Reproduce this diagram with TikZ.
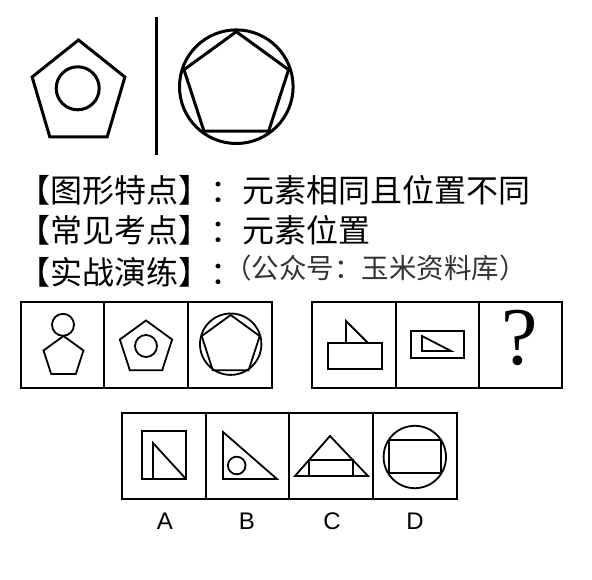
\documentclass[tikz,border=0pt]{standalone}
\usepackage{fontspec}
\newfontfamily\cjk{Noto Sans CJK SC}
\newfontfamily\qfont{Liberation Serif}
\newfontfamily\lblfont{Liberation Sans}
\usetikzlibrary{calc}
\begin{document}
\begin{tikzpicture}[x=1pt,y=-1pt,
  bigline/.style={line width=3pt,line join=miter},
  boxline/.style={line width=2pt},
  figline/.style={line width=1.8pt,line join=miter},
  pent/.pic={\draw (-90:#1)--(-162:#1)--(-234:#1)--(-306:#1)--(-18:#1)--cycle;},
  maintext/.style={anchor=base west,inner sep=0pt,font=\cjk\fontsize{32}{32}\selectfont},
  subtext/.style={anchor=base west,inner sep=0pt,text=black!80,font=\cjk\fontsize{27.5}{27.5}\selectfont},
  lbl/.style={anchor=base,inner sep=0pt,font=\lblfont\fontsize{24}{24}\selectfont}
]
\useasboundingbox (0,0) rectangle (592,580);
\fill[white] (0,0) rectangle (592,580);

% ---- top figure ----
\pic[bigline,xscale=.91] at (78.5,93.6) {pent=53.6};
\draw[bigline] (77.7,88.3) circle[radius=21.5];
\coordinate (vtop) at (156,17);
\coordinate (vbot) at (156,155);
\draw[bigline] (vtop) -- (vbot);
\draw[bigline] (236.3,86.7) circle[radius=56.8];
\pic[bigline] at (236.3,86.7) {pent=55};

% ---- text ----
\node[maintext] (t1) at (18,203) {【图形特点】：元素相同且位置不同};
\node[maintext] (t2) at (18,243) {【常见考点】：元素位置};
\node[maintext] (t3) at (18,284) {【实战演练】：};
\node[subtext] (t4) at (224,279) {（公众号：玉米资料库）};

% ---- row 1 left ----
\draw[boxline] (21,302) rectangle (272,388);
\draw[boxline] (104,302) -- (104,388);
\draw[boxline] (188,302) -- (188,388);
\draw[figline] (63,324.8) circle[radius=11];
\pic[figline] at (63.5,357) {pent=21};
\pic[figline] at (146,348) {pent=27.5};
\draw[figline] (146,346) circle[radius=11];
\draw[figline] (230.7,344.2) circle[radius=30.7];
\pic[figline] at (230.7,345.5) {pent=30.5};

% ---- row 1 right ----
\draw[boxline] (312,302) rectangle (562,388);
\draw[boxline] (396,302) -- (396,388);
\draw[boxline] (479,302) -- (479,388);
\draw[figline] (328,343) rectangle (382,369);
\draw[figline] (346,343) -- (346,321) -- (368,343);
\draw[figline] (411,331) rectangle (464,358);
\draw[figline] (422,336) -- (422,351) -- (451,351) -- cycle;
\node[inner sep=0pt,font=\qfont\fontsize{82}{82}\selectfont] (q) at (520,338) {?};

% ---- row 2 ----
\draw[boxline] (122,413) rectangle (457,499);
\draw[boxline] (206,413) -- (206,499);
\draw[boxline] (289,413) -- (289,499);
\draw[boxline] (373,413) -- (373,499);
% A
\draw[figline] (142,431) rectangle (186,479);
\draw[figline] (153,479) -- (153,443) -- (186,479);
% B
\draw[figline] (223,432) -- (223,479) -- (277,479) -- cycle;
\draw[figline] (236.7,465.5) circle[radius=8.8];
% C
\coordinate (capex) at (330,436);
\coordinate (cl) at (295,476);
\coordinate (cr) at (368,476);
\draw[figline] (capex) -- (cl) -- (cr) -- cycle;
\coordinate (rl) at ($(cl)!0.4!(capex)$);
\coordinate (rr) at ($(cr)!0.4!(capex)$);
\draw[figline] (rl |- cl) -- (rl) -- (rr) -- (rr |- cr);
% D
\draw[figline] (414.8,457) circle[radius=31.2];
\draw[figline] (389,440) rectangle (441,473);

% labels
\node[lbl] (la) at (165,529) {A};
\node[lbl] (lb) at (247,529) {B};
\node[lbl] (lc) at (332,529) {C};
\node[lbl] (ld) at (415,529) {D};
\end{tikzpicture}
\end{document}
